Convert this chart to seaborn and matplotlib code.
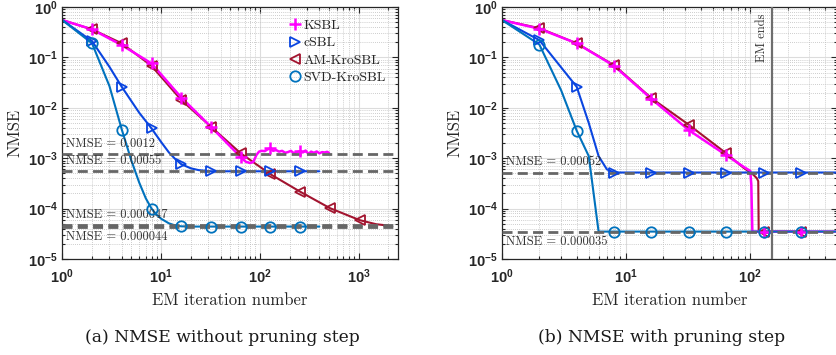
import numpy as np
import pandas as pd
import matplotlib
matplotlib.use("Agg")
import matplotlib.pyplot as plt
import seaborn as sns
from matplotlib.lines import Line2D
from matplotlib.ticker import LogLocator, NullFormatter

# ---------------- data ----------------
# panel (a): without pruning
ksbl_a_iter = [1, 2, 4, 8, 16, 32, 64, 72, 80, 86, 92, 98, 104, 112, 120, 128, 136, 146, 156,
               168, 180, 192, 206, 220, 236, 256, 272, 290, 310, 330, 352, 376, 400, 426, 452, 480, 500]
ksbl_a_nmse = [0.55, 0.36, 0.175, 0.076, 0.016, 0.0042, 0.00105, 0.00085, 0.0008, 0.00085, 0.00115,
               0.00135, 0.0014, 0.00138, 0.0015, 0.00158, 0.0014, 0.00145, 0.00135, 0.0014, 0.00128,
               0.00132, 0.0014, 0.00126, 0.00132, 0.00138, 0.0013, 0.00142, 0.00122, 0.00135, 0.00128,
               0.00136, 0.00125, 0.00132, 0.0013, 0.00134, 0.00128]
cs_a_iter = [1, 2, 3, 4, 6, 8, 10, 12, 14, 16, 20, 24, 32, 64, 128, 256, 400]
cs_a_nmse = [0.55, 0.21, 0.065, 0.026, 0.008, 0.0039, 0.0021, 0.0013, 0.00095, 0.00076, 0.00063,
             0.00058, 0.00055, 0.00055, 0.00055, 0.00055, 0.00055]
am_a_iter = [1, 2, 4, 8, 16, 32, 64, 128, 256, 512, 1024, 1500, 2000]
am_a_nmse = [0.55, 0.36, 0.19, 0.068, 0.0143, 0.0042, 0.00125, 0.00048, 0.000216, 0.000102,
             5.9e-5, 4.9e-5, 4.6e-5]
svd_a_iter = [1, 2, 3, 4, 5, 6, 7, 8, 9, 10, 12, 14, 16, 20, 32, 64, 128, 256, 400]
svd_a_nmse = [0.55, 0.19, 0.027, 0.0037, 0.0009, 0.00033, 0.00016, 0.0001, 7.6e-5, 6.3e-5,
              5.1e-5, 4.6e-5, 4.45e-5, 4.4e-5, 4.4e-5, 4.4e-5, 4.4e-5, 4.4e-5, 4.4e-5]
ref_a_vals = [0.0012, 0.00055, 0.000047, 0.000044]
ref_a_text = ["NMSE = 0.0012", "NMSE = 0.00055", "NMSE = 0.000047", "NMSE = 0.000044"]

# panel (b): with pruning
ksbl_b_iter = [1, 2, 4, 8, 16, 32, 64, 88, 100, 102, 104, 128, 256, 500]
ksbl_b_nmse = [0.55, 0.37, 0.19, 0.068, 0.015, 0.0036, 0.00115, 0.00068, 0.00056, 0.0003,
               3.5e-5, 3.5e-5, 3.5e-5, 3.5e-5]
cs_b_iter = [1, 2, 4, 5, 6, 7, 8, 16, 32, 64, 128, 256, 500]
cs_b_nmse = [0.55, 0.22, 0.026, 0.005, 0.0011, 0.0006, 0.00052, 0.00052, 0.00052, 0.00052,
             0.00052, 0.00052, 0.00052]
am_b_iter = [1, 2, 4, 8, 16, 32, 64, 88, 106, 113, 116, 117, 128, 256, 300]
am_b_nmse = [0.55, 0.38, 0.19, 0.07, 0.0155, 0.0046, 0.00125, 0.00065, 0.00047, 0.0004,
             0.00035, 3.5e-5, 3.5e-5, 3.5e-5, 3.5e-5]
svd_b_iter = [1, 2, 3, 4, 5, 6, 8, 16, 32, 64, 128, 256, 500]
svd_b_nmse = [0.55, 0.18, 0.022, 0.0035, 0.0011, 3.5e-5, 3.5e-5, 3.5e-5, 3.5e-5, 3.5e-5,
              3.5e-5, 3.5e-5, 3.5e-5]
ref_b_vals = [0.00052, 0.000035]
ref_b_text = ["NMSE = 0.00052", "NMSE = 0.000035"]
em_end_iter = 150

marker_iters = [2, 4, 8, 16, 32, 64, 128, 256]
marker_iters_am_a = marker_iters + [512, 1024]

names = ["KSBL", "cSBL", "AM-KroSBL", "SVD-KroSBL"]
colors = {"KSBL": "#FF00FF", "cSBL": "#0A45E0", "AM-KroSBL": "#A2142F", "SVD-KroSBL": "#0072BD"}
markers = {"KSBL": "+", "cSBL": ">", "AM-KroSBL": "<", "SVD-KroSBL": "o"}
zord = {"AM-KroSBL": 2.0, "KSBL": 2.1, "cSBL": 2.2, "SVD-KroSBL": 2.3}

xtick_vals = [1, 10, 100, 1000]
xtick_labels = [r"$\mathdefault{10^{0}}$", r"$\mathdefault{10^{1}}$", r"$\mathdefault{10^{2}}$",
                r"$\mathdefault{10^{3}}$"]
ytick_vals = [1e-5, 1e-4, 1e-3, 1e-2, 1e-1, 1]
ytick_labels = [r"$\mathdefault{10^{-5}}$", r"$\mathdefault{10^{-4}}$", r"$\mathdefault{10^{-3}}$",
                r"$\mathdefault{10^{-2}}$", r"$\mathdefault{10^{-1}}$", r"$\mathdefault{10^{0}}$"]

# ---------------- style ----------------
sns.set_style("ticks")
plt.rcParams["font.family"] = ["DejaVu Sans"]
plt.rcParams["axes.unicode_minus"] = False
SERIF = "cmr10"
TICKFONT = dict(family="Liberation Sans", weight="bold", size=10.5)

fig = plt.figure(figsize=(8.37, 3.55), dpi=100)
W, H = 837.0, 355.0
ax_a = fig.add_axes([62.3 / W, 1 - 259 / H, 335.7 / W, 252 / H])
ax_b = fig.add_axes([502 / W, 1 - 259 / H, 335 / W, 252 / H])


def draw_series(ax, name, it, val, miters):
    df = pd.DataFrame({"iter": it, "nmse": val})
    sns.lineplot(data=df, x="iter", y="nmse", ax=ax, color=colors[name],
                 lw=1.8 if name == "KSBL" else 1.5, zorder=zord[name],
                 estimator=None, sort=False, legend=False)
    dm = df[df["iter"].isin(miters)]
    mk = markers[name]
    sns.lineplot(data=dm, x="iter", y="nmse", ax=ax, color=colors[name], linestyle="none",
                 marker=mk, markersize=9 if mk == "+" else 7.5,
                 markerfacecolor="none", markeredgecolor=colors[name],
                 markeredgewidth=1.8 if mk == "+" else 1.3,
                 zorder=4 + zord[name], estimator=None, sort=False, legend=False)


def style_axes(ax, xmax):
    ax.set_xscale("log")
    ax.set_yscale("log")
    ax.set_xlim(1, xmax)
    ax.set_ylim(1e-5, 1)
    xv = [v for v in xtick_vals if v <= xmax]
    ax.set_xticks(xv, [xtick_labels[xtick_vals.index(v)] for v in xv], **TICKFONT)
    ax.set_yticks(ytick_vals, ytick_labels, **TICKFONT)
    ax.xaxis.set_minor_locator(LogLocator(base=10, subs=np.arange(2, 10), numticks=20))
    ax.yaxis.set_minor_locator(LogLocator(base=10, subs=np.arange(2, 10), numticks=20))
    ax.xaxis.set_minor_formatter(NullFormatter())
    ax.yaxis.set_minor_formatter(NullFormatter())
    ax.tick_params(which="both", direction="in", top=True, right=True, colors="#262626",
                   width=0.8)
    ax.tick_params(axis="x", which="major", pad=6)
    ax.tick_params(axis="y", which="major", pad=3)
    ax.tick_params(which="major", length=4)
    ax.tick_params(which="minor", length=2.3)
    ax.grid(True, which="major", color="#dcdcdc", lw=0.8, ls="-")
    ax.grid(True, which="minor", color="#bdbdbd", lw=0.6, ls=(0, (1, 1.5)))
    ax.set_axisbelow(True)
    for s in ax.spines.values():
        s.set_color("#262626")
        s.set_linewidth(0.9)
    ax.set_xlabel("EM iteration number", family=SERIF, size=12, color="#262626")
    ax.set_ylabel("NMSE", family=SERIF, size=12, color="#262626")
    ax.xaxis.set_label_coords(0.5, -0.163)
    ax.xaxis.label.set_va("center")
    ax.yaxis.set_label_coords(-0.142, 0.5)
    ax.yaxis.label.set_va("center")


dash = dict(color="#666666", lw=2.0, ls=(0, (3.6, 1.9)), zorder=3.5)

# ---- panel (a)
for name, it, val in [("AM-KroSBL", am_a_iter, am_a_nmse), ("KSBL", ksbl_a_iter, ksbl_a_nmse),
                      ("cSBL", cs_a_iter, cs_a_nmse), ("SVD-KroSBL", svd_a_iter, svd_a_nmse)]:
    draw_series(ax_a, name, it, val, marker_iters_am_a if name == "AM-KroSBL" else marker_iters)
for v in ref_a_vals:
    ax_a.axhline(v, **dash)
style_axes(ax_a, 2500)
txt = dict(family=SERIF, size=9, color="#333333", zorder=6)
ax_a.annotate(ref_a_text[0], (1, ref_a_vals[0]), xytext=(3, 3), textcoords="offset points",
              ha="left", va="bottom", **txt)
ax_a.annotate(ref_a_text[1], (1, ref_a_vals[1]), xytext=(3, 3), textcoords="offset points",
              ha="left", va="bottom", **txt)
ax_a.annotate(ref_a_text[2], (1, ref_a_vals[2]), xytext=(3, 3), textcoords="offset points",
              ha="left", va="bottom", **txt)
ax_a.annotate(ref_a_text[3], (1, ref_a_vals[3]), xytext=(3, -3), textcoords="offset points",
              ha="left", va="top", **txt)

handles = [Line2D([], [], ls="none", marker=markers[n], color=colors[n], markerfacecolor="none",
                  markeredgecolor=colors[n], markersize=9 if markers[n] == "+" else 7.5,
                  markeredgewidth=1.8 if markers[n] == "+" else 1.3) for n in names]
leg = ax_a.legend(handles, names, loc="upper left", bbox_to_anchor=(0.678, 0.95),
                  frameon=False, handlelength=0.8, handletextpad=0.15, labelspacing=0.32,
                  borderpad=0, borderaxespad=0, prop=dict(family=SERIF, size=10))
for t in leg.get_texts():
    t.set_color("#262626")

# ---- panel (b)
for name, it, val in [("AM-KroSBL", am_b_iter, am_b_nmse), ("KSBL", ksbl_b_iter, ksbl_b_nmse),
                      ("cSBL", cs_b_iter, cs_b_nmse), ("SVD-KroSBL", svd_b_iter, svd_b_nmse)]:
    draw_series(ax_b, name, it, val, marker_iters)
for v in ref_b_vals:
    ax_b.axhline(v, **dash)
ax_b.axvline(em_end_iter, color="#6e6e6e", lw=1.6, zorder=7)
style_axes(ax_b, 500)
ax_b.annotate(ref_b_text[0], (1, ref_b_vals[0]), xytext=(3, 3), textcoords="offset points",
              ha="left", va="bottom", **txt)
ax_b.annotate(ref_b_text[1], (1, ref_b_vals[1]), xytext=(3, -3), textcoords="offset points",
              ha="left", va="top", **txt)
ax_b.annotate("EM ends", (em_end_iter, 1), xytext=(-3, -5), textcoords="offset points",
              rotation=90, ha="right", va="top", **txt)

# captions
cap = dict(family="DejaVu Serif", size=12.3, color="#1a1a1a", ha="center", va="center")
fig.text(222 / W, 1 - 338 / H, "(a) NMSE without pruning step", **cap)
fig.text(662 / W, 1 - 338 / H, "(b) NMSE with pruning step", **cap)

fig.savefig("out.png", dpi=100)
